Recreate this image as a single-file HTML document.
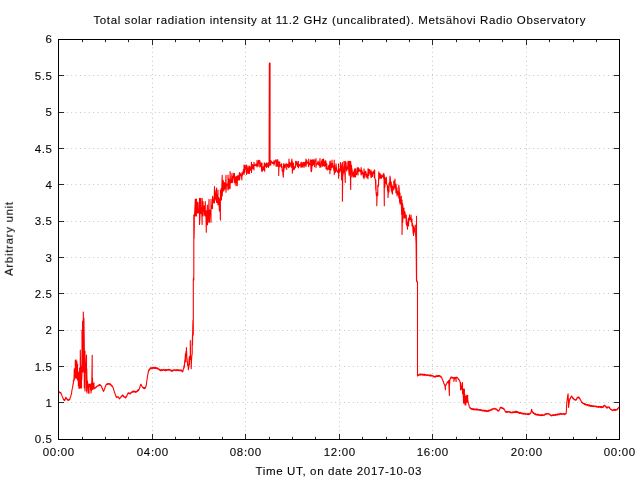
<!DOCTYPE html>
<html><head><meta charset="utf-8"><style>html,body{margin:0;padding:0;background:#fff;width:640px;height:480px;overflow:hidden}svg{display:block}</style></head>
<body><svg width="640" height="480" viewBox="0 0 640 480">
<rect width="640" height="480" fill="#fff"/>
<path d="M152.5 439.5V39.5M245.5 439.5V39.5M339.5 439.5V39.5M432.5 439.5V39.5M526.5 439.5V39.5M58.5 402.5H619.5M58.5 366.5H619.5M58.5 330.5H619.5M58.5 293.5H619.5M58.5 257.5H619.5M58.5 221.5H619.5M58.5 184.5H619.5M58.5 148.5H619.5M58.5 112.5H619.5M58.5 75.5H619.5" stroke="#c4c4c4" stroke-width="1" stroke-dasharray="1 3.4000000000000004" stroke-dashoffset="0.5" fill="none"/>
<path d="M58.5 439.5v-5.6M58.5 39.5v5.6M152.5 439.5v-5.6M152.5 39.5v5.6M245.5 439.5v-5.6M245.5 39.5v5.6M339.5 439.5v-5.6M339.5 39.5v5.6M432.5 439.5v-5.6M432.5 39.5v5.6M526.5 439.5v-5.6M526.5 39.5v5.6M619.5 439.5v-5.6M619.5 39.5v5.6M82.5 439.5v-2.7M82.5 39.5v2.7M105.5 439.5v-2.7M105.5 39.5v2.7M128.5 439.5v-2.7M128.5 39.5v2.7M175.5 439.5v-2.7M175.5 39.5v2.7M199.5 439.5v-2.7M199.5 39.5v2.7M222.5 439.5v-2.7M222.5 39.5v2.7M269.5 439.5v-2.7M269.5 39.5v2.7M292.5 439.5v-2.7M292.5 39.5v2.7M315.5 439.5v-2.7M315.5 39.5v2.7M362.5 439.5v-2.7M362.5 39.5v2.7M386.5 439.5v-2.7M386.5 39.5v2.7M409.5 439.5v-2.7M409.5 39.5v2.7M456.5 439.5v-2.7M456.5 39.5v2.7M479.5 439.5v-2.7M479.5 39.5v2.7M502.5 439.5v-2.7M502.5 39.5v2.7M549.5 439.5v-2.7M549.5 39.5v2.7M573.5 439.5v-2.7M573.5 39.5v2.7M596.5 439.5v-2.7M596.5 39.5v2.7M58.5 439.5h5.6M619.5 439.5h-5.6M58.5 402.5h5.6M619.5 402.5h-5.6M58.5 366.5h5.6M619.5 366.5h-5.6M58.5 330.5h5.6M619.5 330.5h-5.6M58.5 293.5h5.6M619.5 293.5h-5.6M58.5 257.5h5.6M619.5 257.5h-5.6M58.5 221.5h5.6M619.5 221.5h-5.6M58.5 184.5h5.6M619.5 184.5h-5.6M58.5 148.5h5.6M619.5 148.5h-5.6M58.5 112.5h5.6M619.5 112.5h-5.6M58.5 75.5h5.6M619.5 75.5h-5.6M58.5 39.5h5.6M619.5 39.5h-5.6" stroke="#2a2a2a" stroke-width="1" fill="none"/>
<path d="M58.50 391.60 58.86 392.16 59.21 391.76 59.57 392.73 59.93 392.23 60.29 393.11 60.64 392.52 61.00 393.10 61.31 394.11 61.62 394.25 61.94 395.67 62.25 396.25 62.56 396.65 62.88 398.05 63.19 398.38 63.50 399.40 63.81 400.09 64.12 399.43 64.44 400.55 64.75 400.60 65.07 399.27 65.38 399.01 65.70 397.50 66.00 397.25 66.30 398.71 66.60 398.25 66.90 399.00 67.28 399.90 67.66 399.30 68.04 400.37 68.42 399.71 68.80 400.30 69.10 400.17 69.40 399.28 69.70 399.47 70.00 398.75 70.33 397.10 70.65 396.85 70.97 395.03 71.30 394.40 71.60 393.09 71.90 390.44 72.20 389.00 72.50 387.69 72.80 385.69 73.10 383.87 73.40 384.00 73.40 380.00 73.70 380.25 74.00 380.77 74.30 368.75 74.30 380.00 74.63 369.50 74.97 372.67 75.30 378.00 75.30 360.30 75.60 363.94 75.90 378.00 75.90 359.80 76.20 366.10 76.50 366.44 76.80 361.00 76.80 378.00 77.20 379.00 77.60 364.00 77.60 380.00 77.87 373.25 78.13 373.54 78.40 386.00 78.40 372.00 78.70 376.29 79.00 388.40 79.00 376.00 79.30 377.43 79.60 388.00 79.60 368.00 79.95 383.46 80.30 388.00 80.30 350.00 80.55 362.72 80.80 388.00 80.80 366.00 81.15 372.64 81.50 388.00 81.50 366.00 81.75 380.00 82.00 372.00 82.00 330.00 82.30 359.45 82.60 372.00 82.60 321.00 82.95 355.96 83.30 372.00 83.30 312.00 83.60 340.89 83.90 360.00 83.90 318.00 84.30 345.00 84.30 388.00 84.65 361.61 85.00 351.00 85.00 391.00 85.38 368.20 85.75 372.22 86.12 363.22 86.50 355.00 86.50 391.00 86.75 368.86 87.00 380.00 87.00 393.00 87.40 380.80 87.80 384.26 88.20 385.90 88.60 392.72 89.00 393.60 89.00 384.00 89.40 385.63 89.80 386.61 90.20 384.00 90.60 389.98 91.00 384.00 91.00 393.00 91.30 390.06 91.60 383.00 91.60 390.00 91.90 376.74 92.20 355.20 92.20 388.00 92.45 377.78 92.70 382.80 92.70 389.40 93.03 385.49 93.35 385.23 93.67 383.48 94.00 383.00 94.00 389.00 94.25 388.70 94.50 388.40 94.90 388.40 95.30 387.37 95.70 387.91 96.10 386.88 96.50 387.16 96.90 386.16 97.30 386.10 97.65 386.13 98.00 385.45 98.35 386.00 98.70 384.99 99.05 385.34 99.40 384.44 99.75 384.60 100.11 385.49 100.47 384.97 100.84 385.90 101.20 385.80 101.58 386.29 101.97 388.26 102.35 388.03 102.73 390.12 103.12 390.14 103.50 391.40 103.90 390.78 104.30 389.04 104.70 389.00 105.10 386.77 105.50 386.66 105.90 385.12 106.30 384.40 106.64 384.59 106.99 383.87 107.33 384.47 107.67 383.48 108.01 384.14 108.36 383.52 108.70 383.60 109.08 384.19 109.47 383.64 109.85 384.65 110.23 383.77 110.62 385.11 111.00 384.80 111.38 384.85 111.76 386.24 112.14 385.74 112.52 386.94 112.90 387.20 113.27 387.72 113.64 389.99 114.01 389.97 114.38 392.24 114.75 392.80 115.10 393.48 115.45 395.28 115.80 395.71 116.15 397.00 116.54 397.48 116.93 396.78 117.33 397.23 117.72 396.71 118.11 397.27 118.50 397.00 118.80 397.28 119.10 398.49 119.40 398.90 119.75 398.23 120.10 398.21 120.45 397.23 120.80 397.00 121.18 396.98 121.56 396.03 121.94 396.45 122.32 395.01 122.70 395.10 123.05 395.84 123.40 395.74 123.75 396.88 124.10 397.00 124.48 396.74 124.86 397.45 125.24 396.72 125.62 398.05 126.00 397.50 126.38 396.31 126.77 396.35 127.15 394.92 127.53 394.61 127.92 393.23 128.30 392.80 128.66 393.35 129.03 392.70 129.39 393.78 129.75 393.75 130.11 393.28 130.47 393.86 130.83 392.53 131.19 392.97 131.56 392.00 131.92 392.39 132.28 391.49 132.64 392.30 133.00 391.40 133.37 390.87 133.73 392.02 134.10 391.25 134.47 391.98 134.83 391.41 135.20 392.28 135.57 391.35 135.93 392.39 136.30 391.90 136.70 391.21 137.10 391.51 137.50 390.31 137.90 391.17 138.30 389.60 138.70 390.40 139.10 389.50 139.44 387.87 139.78 387.91 140.12 386.02 140.46 385.69 140.80 384.20 141.20 384.59 141.60 385.91 142.00 386.24 142.40 387.20 142.79 387.76 143.18 387.35 143.57 388.41 143.97 387.50 144.36 388.77 144.75 388.60 145.09 387.38 145.43 388.04 145.76 386.17 146.10 386.20 146.43 384.24 146.75 381.25 147.07 379.52 147.40 376.90 147.77 374.58 148.13 373.12 148.50 370.80 148.88 369.81 149.26 370.38 149.64 368.69 150.02 369.17 150.40 368.25 150.80 367.69 151.20 368.68 151.60 367.82 152.00 368.49 152.40 367.32 152.80 368.42 153.20 367.80 153.54 367.29 153.89 368.27 154.23 367.61 154.57 368.47 154.91 367.60 155.26 368.53 155.60 368.00 155.98 367.42 156.36 368.50 156.74 367.80 157.12 368.87 157.50 368.30 157.88 368.08 158.27 369.17 158.65 368.95 159.03 369.76 159.42 369.19 159.80 370.10 160.19 370.65 160.58 369.82 160.97 370.64 161.36 369.42 161.75 370.55 162.15 369.69 162.54 370.48 162.93 369.77 163.32 370.22 163.71 369.37 164.10 370.00 164.45 370.50 164.80 369.59 165.15 370.66 165.50 369.66 165.85 370.65 166.20 369.50 166.55 370.38 166.90 370.10 167.28 369.69 167.67 370.23 168.05 369.50 168.43 370.16 168.82 369.29 169.20 369.50 169.54 370.07 169.89 369.62 170.23 370.67 170.57 369.89 170.91 370.83 171.26 370.15 171.60 370.80 171.95 371.32 172.30 370.24 172.65 371.15 173.00 370.03 173.35 370.80 173.70 369.84 174.05 370.39 174.40 370.10 174.77 369.70 175.14 370.38 175.51 369.90 175.88 370.66 176.25 369.83 176.62 370.51 176.99 369.58 177.36 370.55 177.73 369.76 178.10 370.10 178.47 370.56 178.83 369.72 179.20 370.75 179.57 369.99 179.93 370.72 180.30 369.99 180.67 370.65 181.03 369.82 181.40 370.40 181.75 371.15 182.10 370.60 182.45 371.92 182.80 371.70 183.15 369.79 183.50 369.06 183.85 366.93 184.20 365.00 184.20 368.00 184.50 364.97 184.80 360.17 185.10 359.94 185.40 353.75 185.40 362.00 185.73 354.90 186.07 351.28 186.40 356.00 186.40 347.65 186.70 354.01 187.00 362.00 187.00 358.40 187.35 361.71 187.70 365.58 188.05 364.82 188.40 369.70 188.40 365.00 188.73 368.13 189.07 359.40 189.40 356.60 189.40 365.00 189.70 356.23 190.00 356.89 190.30 355.00 190.30 340.60 190.60 359.58 190.90 356.72 191.20 360.00 191.20 368.75 191.53 360.25 191.87 355.39 192.20 353.75 192.20 345.00 192.50 335.00 192.50 345.00 192.77 326.45 193.03 319.99 193.30 335.00 193.30 280.00 193.55 277.91 193.80 280.00 193.80 215.00 194.05 238.43 194.30 226.00 194.30 215.00 194.67 212.86 195.03 204.94 195.40 199.00 195.40 216.00 195.73 209.86 196.07 205.72 196.40 216.00 196.40 199.00 196.77 206.20 197.13 202.21 197.50 202.50 197.50 213.00 197.88 211.81 198.25 212.85 198.62 209.92 199.00 202.50 199.00 213.00 199.25 208.77 199.50 198.30 199.50 224.40 199.87 218.89 200.24 209.03 200.61 198.30 200.99 213.25 201.36 213.65 201.73 207.31 202.10 224.40 202.10 198.30 202.40 203.18 202.70 212.38 203.00 201.50 203.00 216.00 203.38 207.22 203.77 211.18 204.15 205.84 204.53 215.08 204.92 214.24 205.30 201.50 205.30 216.00 205.63 213.78 205.97 216.23 206.30 232.20 206.30 210.80 206.67 219.77 207.03 212.96 207.40 205.00 207.40 225.00 207.80 221.54 208.20 210.59 208.60 211.70 209.00 199.40 209.00 222.30 209.40 222.30 209.80 209.72 210.20 214.03 210.60 210.28 211.00 222.30 211.00 199.40 211.38 208.59 211.75 208.18 212.12 205.24 212.50 208.75 212.50 196.25 212.90 197.81 213.30 202.30 213.70 201.04 214.10 203.31 214.50 186.50 214.50 202.50 214.85 190.01 215.20 194.61 215.55 197.47 215.90 200.11 216.25 192.33 216.60 188.00 216.60 202.50 216.95 195.23 217.30 194.55 217.65 203.31 218.00 190.00 218.00 205.00 218.34 201.35 218.69 197.64 219.03 201.84 219.37 211.07 219.71 198.72 220.06 205.04 220.40 220.00 220.40 190.00 220.73 198.48 221.07 198.91 221.40 188.00 221.40 200.00 221.80 188.39 222.20 175.30 222.20 196.00 222.58 189.82 222.96 180.27 223.34 181.12 223.72 191.08 224.10 188.69 224.48 182.57 224.86 188.88 225.24 188.83 225.62 184.12 226.00 175.30 226.00 192.20 226.40 185.88 226.80 184.07 227.20 184.29 227.60 183.94 228.00 190.00 228.00 175.00 228.35 185.87 228.70 178.99 229.05 188.83 229.40 179.41 229.75 186.06 230.10 188.40 230.10 171.60 230.48 181.48 230.86 182.69 231.24 181.66 231.62 178.76 232.00 173.40 232.00 182.80 232.34 182.66 232.69 178.54 233.03 176.37 233.37 177.52 233.71 173.40 234.06 179.14 234.40 182.80 234.40 173.40 234.80 182.89 235.20 182.73 235.60 177.23 236.00 185.60 236.00 176.25 236.40 182.28 236.80 182.35 237.20 176.25 237.20 185.60 237.58 177.81 237.97 175.37 238.35 178.43 238.73 180.03 239.12 176.79 239.50 172.50 239.50 180.00 239.84 177.99 240.19 173.19 240.53 174.75 240.87 174.52 241.21 175.82 241.56 176.87 241.90 180.00 241.90 172.50 242.25 175.77 242.60 174.75 242.95 172.86 243.30 169.87 243.65 171.39 244.00 174.40 244.00 165.00 244.36 170.71 244.73 172.79 245.09 165.00 245.46 168.60 245.82 167.69 246.19 169.81 246.55 165.00 246.55 174.40 246.91 171.92 247.28 168.27 247.64 170.05 248.00 166.00 248.00 173.40 248.35 168.06 248.70 170.28 249.05 173.40 249.40 166.00 249.40 173.40 249.75 167.80 250.10 167.12 250.45 167.95 250.80 170.49 251.15 167.20 251.50 162.20 251.50 172.50 251.86 167.09 252.21 167.10 252.57 164.50 252.93 168.68 253.29 164.75 253.64 166.25 254.00 170.00 254.00 162.20 254.38 165.56 254.75 165.47 255.12 165.08 255.50 165.78 255.88 164.04 256.25 164.58 256.62 165.62 257.00 166.90 257.00 160.30 257.39 163.84 257.77 163.88 258.16 166.21 258.54 160.36 258.93 163.00 259.31 161.88 259.70 160.30 259.70 166.90 260.08 161.47 260.47 166.41 260.85 163.93 261.23 162.96 261.62 170.82 262.00 163.10 262.00 171.60 262.39 169.72 262.77 170.55 263.16 166.80 263.54 166.65 263.93 169.86 264.31 163.10 264.70 171.20 264.70 163.10 265.06 164.23 265.42 163.99 265.78 166.33 266.14 164.73 266.50 162.80 266.50 167.50 266.88 163.50 267.26 164.90 267.64 166.45 268.02 162.96 268.40 167.50 268.40 162.80 268.75 165.50 269.10 166.00 269.10 162.80 269.35 63.00 269.35 165.00 269.70 78.05 270.05 63.00 270.05 165.00 270.30 165.10 270.30 160.50 270.55 164.43 270.80 165.10 270.80 160.50 271.20 161.50 271.60 162.45 272.00 161.86 272.40 163.52 272.80 162.94 273.20 162.38 273.60 163.30 274.00 165.10 274.00 160.50 274.40 163.78 274.80 161.02 275.20 161.10 275.60 160.92 276.00 159.50 276.00 166.10 276.36 161.83 276.72 160.72 277.08 166.10 277.44 162.87 277.80 166.10 277.80 159.50 278.10 164.73 278.40 162.74 278.70 161.90 278.70 175.50 279.03 162.65 279.37 164.99 279.70 166.60 279.70 161.90 280.06 166.55 280.42 165.65 280.78 165.07 281.14 165.81 281.50 163.75 281.50 167.50 281.88 166.33 282.26 171.29 282.64 169.88 283.02 175.03 283.40 177.30 283.40 163.75 283.70 171.87 284.00 169.40 284.00 163.75 284.39 166.27 284.77 165.14 285.16 167.88 285.54 165.40 285.93 163.93 286.31 164.77 286.70 163.75 286.70 169.40 287.08 164.25 287.47 166.46 287.85 165.47 288.23 164.27 288.62 167.77 289.00 159.00 289.00 167.50 289.36 162.14 289.73 166.36 290.09 164.15 290.45 163.32 290.81 162.80 291.17 167.03 291.54 161.89 291.90 159.00 291.90 167.50 292.10 161.00 292.30 161.40 292.30 173.10 292.67 165.90 293.03 170.19 293.40 163.06 293.77 166.56 294.13 169.44 294.50 168.50 294.87 166.69 295.23 167.68 295.60 167.00 295.60 161.40 296.00 164.57 296.40 164.21 296.80 161.40 297.20 165.36 297.60 166.59 298.00 164.21 298.40 161.40 298.40 168.00 298.77 164.57 299.14 166.02 299.51 165.95 299.89 164.41 300.26 164.03 300.63 164.43 301.00 167.50 301.00 162.30 301.38 162.30 301.75 164.32 302.12 166.84 302.50 167.04 302.88 162.30 303.25 164.72 303.62 164.57 304.00 167.50 304.00 162.30 304.40 163.30 304.80 165.77 305.20 162.26 305.60 163.40 306.00 159.00 306.00 166.60 306.39 162.83 306.77 160.31 307.16 162.93 307.54 162.40 307.93 163.99 308.31 161.69 308.70 166.60 308.70 159.00 309.09 165.01 309.47 163.75 309.86 163.97 310.24 164.57 310.63 159.71 311.01 170.97 311.40 160.00 311.40 171.70 311.77 169.37 312.13 162.68 312.50 165.60 312.50 160.00 312.89 159.84 313.28 162.40 313.67 164.76 314.06 159.38 314.44 166.66 314.83 161.09 315.22 161.76 315.61 161.17 316.00 158.60 316.00 167.50 316.40 163.99 316.80 164.23 317.20 163.42 317.60 164.16 318.00 161.16 318.40 164.91 318.80 162.25 319.20 162.73 319.60 166.23 320.00 158.60 320.00 167.50 320.36 163.90 320.72 165.18 321.08 166.93 321.44 161.40 321.80 163.92 322.16 159.65 322.52 166.17 322.88 159.84 323.24 159.26 323.60 159.00 323.60 165.60 324.00 161.77 324.40 166.40 324.80 164.70 325.20 160.66 325.60 165.67 326.00 161.25 326.00 168.75 326.39 164.04 326.78 163.85 327.17 170.25 327.56 167.97 327.95 168.61 328.34 169.05 328.73 165.21 329.12 169.41 329.51 166.57 329.90 161.25 329.90 173.75 330.25 161.04 330.60 165.95 330.95 170.00 331.30 163.90 331.65 167.41 332.00 160.00 332.00 167.50 332.38 163.09 332.75 166.00 333.12 166.66 333.50 168.16 333.88 170.50 334.25 160.00 334.25 174.40 334.60 164.71 334.95 168.74 335.30 172.51 335.65 170.35 336.00 171.25 336.00 163.75 336.37 167.93 336.74 169.66 337.11 170.54 337.49 172.09 337.86 171.78 338.23 172.93 338.60 163.75 338.60 178.10 338.98 171.55 339.36 168.82 339.74 172.10 340.12 170.55 340.50 170.00 340.50 162.50 340.88 164.91 341.26 167.21 341.64 179.87 342.02 169.38 342.40 162.50 342.40 201.25 342.72 177.07 343.04 173.64 343.36 173.58 343.68 166.52 344.00 168.75 344.00 161.25 344.31 172.19 344.62 172.03 344.94 174.65 345.25 182.50 345.25 161.25 345.64 162.98 346.04 162.38 346.43 169.71 346.82 171.07 347.21 167.00 347.61 168.85 348.00 161.25 348.00 168.75 348.39 161.25 348.77 171.28 349.16 175.21 349.54 161.33 349.93 174.07 350.31 174.11 350.70 189.40 350.70 161.25 351.02 170.98 351.35 165.00 351.68 168.28 352.00 176.90 352.00 168.75 352.39 173.37 352.78 175.26 353.17 172.83 353.56 176.90 353.94 170.80 354.33 176.85 354.72 168.75 355.11 172.84 355.50 168.75 355.50 176.90 355.86 173.76 356.21 174.02 356.57 174.52 356.93 169.62 357.29 167.86 357.64 170.89 358.00 175.00 358.00 167.50 358.39 168.05 358.77 171.48 359.16 168.77 359.55 170.64 359.94 171.05 360.33 171.58 360.71 169.65 361.10 175.00 361.10 167.50 361.46 174.52 361.83 170.18 362.19 171.75 362.55 173.80 362.91 172.77 363.27 177.12 363.64 172.99 364.00 178.75 364.00 168.75 364.40 172.36 364.80 177.06 365.20 175.31 365.60 171.17 366.00 172.27 366.40 174.42 366.80 177.76 367.20 176.29 367.60 173.92 368.00 178.75 368.00 168.75 368.38 168.91 368.75 175.49 369.12 170.28 369.50 169.46 369.88 171.92 370.25 174.03 370.62 173.86 371.00 177.50 371.00 170.00 371.36 177.50 371.72 173.21 372.08 171.90 372.44 176.37 372.81 174.11 373.17 172.68 373.53 171.66 373.89 173.60 374.25 170.00 374.25 177.50 374.48 176.85 374.70 170.00 374.70 177.00 375.07 178.87 375.43 180.29 375.80 190.00 375.80 180.00 376.13 192.87 376.47 195.88 376.80 195.00 376.80 205.80 377.13 192.73 377.47 195.70 377.80 195.00 377.80 185.00 378.13 186.90 378.47 185.00 378.80 171.70 378.80 180.00 379.20 175.66 379.60 173.65 380.00 178.30 380.00 173.30 380.38 176.90 380.76 178.30 381.14 174.75 381.52 178.30 381.90 175.93 382.28 176.85 382.66 175.88 383.04 174.55 383.42 177.48 383.80 178.30 383.80 173.30 384.05 181.23 384.30 205.80 384.30 175.00 384.65 187.79 385.00 186.00 385.00 178.00 385.32 183.15 385.65 178.36 385.98 182.48 386.30 184.00 386.30 177.00 386.64 184.01 386.98 184.53 387.32 185.67 387.66 190.87 388.00 186.00 388.00 197.50 388.33 192.08 388.67 188.65 389.00 192.00 389.00 183.00 389.33 185.87 389.67 182.78 390.00 176.00 390.00 184.00 390.32 177.50 390.65 186.64 390.98 188.05 391.30 182.00 391.30 191.00 391.70 184.85 392.10 193.00 392.50 194.00 392.50 186.00 392.82 188.79 393.15 186.97 393.48 188.10 393.80 190.00 393.80 181.00 394.20 188.31 394.60 182.01 395.00 179.00 395.00 186.00 395.33 187.83 395.67 187.24 396.00 193.00 396.00 184.00 396.33 187.85 396.67 192.50 397.00 188.00 397.00 196.00 397.36 191.09 397.72 193.39 398.08 194.37 398.44 191.65 398.80 198.00 398.80 185.00 399.20 188.34 399.60 202.00 400.00 193.00 400.00 204.00 400.32 204.00 400.65 204.00 400.98 200.28 401.30 196.00 401.30 204.00 401.65 214.40 402.00 200.00 402.00 234.50 402.27 222.95 402.53 203.33 402.80 222.00 402.80 205.00 403.20 212.06 403.60 213.65 404.00 208.00 404.00 218.00 404.33 211.19 404.67 214.69 405.00 218.00 405.00 212.00 405.31 217.29 405.62 216.54 405.94 214.90 406.25 224.00 406.25 215.00 406.56 225.17 406.88 225.04 407.19 224.56 407.50 229.30 407.50 222.00 407.83 225.89 408.17 219.54 408.50 218.00 408.50 226.00 408.83 221.00 409.17 219.03 409.50 220.00 409.50 214.70 409.88 220.00 410.25 218.76 410.62 217.35 411.00 220.00 411.00 215.00 411.33 221.98 411.67 222.22 412.00 219.00 412.00 226.00 412.38 223.32 412.75 225.76 413.12 233.12 413.50 226.00 413.50 235.50 413.83 229.17 414.17 229.33 414.50 232.00 414.50 228.00 414.77 229.44 415.03 227.69 415.30 225.00 415.30 233.40 415.70 235.56 416.10 243.33 416.50 281.00 416.50 216.25 416.60 281.00 416.88 281.87 417.17 281.05 417.45 282.00 417.50 282.00 417.50 376.00 417.60 376.00 418.00 374.92 418.40 374.80 418.76 375.37 419.11 374.49 419.47 374.95 419.82 374.19 420.18 375.18 420.54 373.87 420.89 374.82 421.25 374.40 421.63 374.14 422.00 374.88 422.38 374.12 422.76 375.20 423.13 374.36 423.51 375.24 423.89 374.20 424.26 375.34 424.64 374.27 425.02 375.34 425.39 374.57 425.77 375.30 426.15 374.65 426.52 375.60 426.90 375.10 427.27 374.92 427.65 375.48 428.02 374.70 428.39 375.59 428.77 375.11 429.14 375.59 429.51 374.98 429.89 375.82 430.26 374.88 430.63 376.16 431.01 374.97 431.38 375.98 431.75 375.47 432.13 375.99 432.50 375.80 432.88 375.58 433.27 376.72 433.65 376.00 434.03 376.90 434.42 376.42 434.80 377.00 435.16 377.25 435.52 376.05 435.89 376.86 436.25 376.10 436.62 375.49 437.00 376.54 437.38 375.76 437.75 376.56 438.12 375.62 438.50 376.37 438.88 375.53 439.25 376.39 439.62 375.54 440.00 375.80 440.38 376.57 440.76 376.41 441.14 377.44 441.52 377.04 441.90 378.10 442.27 379.50 442.64 379.64 443.01 381.30 443.38 381.21 443.75 382.80 444.07 384.01 444.38 384.07 444.70 385.15 445.05 386.65 445.40 389.80 445.40 385.00 445.75 385.30 446.10 385.15 446.45 383.69 446.80 383.77 447.15 382.30 447.50 381.90 447.80 382.48 448.10 382.44 448.40 380.90 448.40 383.00 448.73 380.60 449.07 388.49 449.40 395.50 449.40 380.00 449.60 384.45 449.80 381.00 449.80 379.10 450.13 379.35 450.47 377.87 450.80 377.20 451.18 377.91 451.57 376.89 451.95 378.04 452.33 377.14 452.72 378.16 453.10 377.65 453.50 378.12 453.90 377.50 453.90 381.40 454.27 378.89 454.63 378.50 455.00 377.20 455.37 378.09 455.73 378.47 456.10 381.40 456.10 377.20 456.50 377.53 456.90 377.20 457.20 377.27 457.50 378.30 457.80 378.30 458.18 378.50 458.56 379.51 458.94 379.37 459.32 380.61 459.70 380.60 460.00 381.89 460.30 383.78 460.60 390.00 460.60 382.50 460.98 385.26 461.36 389.40 461.74 387.56 462.12 386.87 462.50 382.50 462.50 393.75 462.83 388.66 463.17 392.39 463.50 403.10 463.50 389.00 463.80 398.69 464.10 397.55 464.40 389.00 464.40 403.10 464.75 394.34 465.10 396.60 465.10 405.00 465.45 401.87 465.80 396.60 465.80 405.00 466.10 400.53 466.40 397.16 466.70 402.20 466.70 395.20 467.03 400.32 467.37 398.11 467.70 395.20 467.70 402.20 467.90 400.10 468.10 402.20 468.45 403.74 468.80 404.24 469.15 406.41 469.50 407.30 469.85 407.38 470.20 408.43 470.55 407.87 470.90 408.90 471.29 409.29 471.68 408.55 472.07 409.41 472.47 408.72 472.86 409.74 473.25 408.55 473.64 409.61 474.03 409.02 474.43 409.88 474.82 409.11 475.21 409.65 475.60 409.50 475.98 408.93 476.36 409.97 476.74 409.05 477.12 410.04 477.50 409.10 477.88 410.14 478.26 409.51 478.64 410.02 479.02 409.41 479.40 409.90 479.77 410.46 480.14 409.43 480.51 410.35 480.88 409.70 481.25 410.61 481.62 409.90 481.99 410.65 482.36 410.14 482.73 410.96 483.10 410.60 483.48 410.03 483.86 410.94 484.24 410.33 484.62 411.36 485.00 410.22 485.38 411.18 485.76 410.70 486.14 411.62 486.52 410.41 486.90 411.10 487.27 411.41 487.64 410.68 488.01 411.42 488.38 410.33 488.75 411.21 489.12 410.02 489.49 410.97 489.86 410.03 490.23 410.75 490.60 410.10 491.00 409.60 491.40 410.08 491.80 408.92 492.20 409.87 492.60 408.82 493.00 408.90 493.36 409.12 493.72 408.38 494.08 409.12 494.44 408.25 494.80 408.55 495.18 409.03 495.56 408.70 495.94 409.76 496.32 408.87 496.70 409.70 497.08 410.19 497.46 409.81 497.84 411.08 498.22 410.61 498.60 411.10 498.98 410.92 499.36 409.33 499.74 409.29 500.12 407.61 500.50 407.30 500.88 407.95 501.27 407.30 501.65 408.19 502.03 407.51 502.42 408.52 502.80 408.30 503.15 408.03 503.50 409.15 503.85 408.58 504.20 409.20 504.55 410.11 504.90 410.12 505.25 411.72 505.60 412.00 506.00 411.66 506.40 412.46 506.80 411.32 507.20 412.23 507.60 411.51 508.00 412.15 508.40 411.70 508.75 411.56 509.10 412.15 509.45 411.61 509.80 412.34 510.15 411.80 510.50 412.73 510.85 412.19 511.20 412.50 511.58 412.92 511.95 412.14 512.33 412.84 512.71 411.71 513.08 412.62 513.46 411.91 513.84 412.49 514.22 411.64 514.59 412.57 514.97 411.63 515.35 412.41 515.72 411.11 516.10 411.70 516.48 412.38 516.87 411.43 517.25 412.43 517.63 411.66 518.02 412.87 518.40 412.60 518.78 412.04 519.16 413.35 519.54 412.54 519.92 413.43 520.30 412.33 520.68 413.24 521.06 412.74 521.44 413.70 521.82 412.96 522.20 413.30 522.57 413.98 522.94 413.13 523.31 414.09 523.68 413.34 524.05 414.10 524.42 413.14 524.79 414.11 525.16 413.59 525.53 414.40 525.90 414.05 526.28 413.72 526.66 414.29 527.04 413.82 527.42 414.38 527.80 413.50 528.18 414.64 528.56 413.55 528.94 414.44 529.32 413.63 529.70 414.20 530.05 413.95 530.40 412.76 530.75 413.18 531.10 412.20 531.40 410.34 531.70 409.20 532.10 411.29 532.50 412.20 532.85 412.10 533.20 413.36 533.55 412.65 533.90 413.60 534.28 413.99 534.67 413.25 535.05 414.53 535.43 413.83 535.82 414.91 536.20 414.50 536.58 414.23 536.96 415.25 537.34 414.19 537.72 415.06 538.10 414.21 538.48 415.20 538.86 414.57 539.24 415.43 539.62 414.73 540.00 415.00 540.37 415.59 540.74 414.73 541.11 415.55 541.48 414.44 541.85 415.56 542.22 414.62 542.59 415.48 542.96 414.96 543.33 415.39 543.70 415.20 544.08 414.71 544.46 415.22 544.84 414.12 545.22 414.71 545.60 414.05 546.00 413.38 546.40 414.18 546.80 413.56 547.20 414.29 547.60 413.52 548.00 413.86 548.40 413.60 548.80 413.56 549.20 414.48 549.60 414.19 550.00 415.16 550.40 414.72 550.80 415.50 551.18 415.92 551.56 415.12 551.95 415.84 552.33 414.91 552.71 415.53 553.09 414.61 553.47 415.49 553.85 414.87 554.24 415.33 554.62 414.56 555.00 415.00 555.39 415.51 555.78 414.29 556.17 415.14 556.57 414.37 556.96 414.80 557.35 414.04 557.74 414.90 558.13 414.01 558.53 414.78 558.92 413.81 559.31 414.75 559.70 414.05 560.10 413.52 560.50 414.36 560.90 413.44 561.30 414.27 561.70 413.61 562.10 414.43 562.50 413.75 562.90 414.27 563.30 413.50 563.70 414.25 564.10 413.60 564.50 414.67 564.90 413.79 565.30 414.05 565.60 414.15 565.90 413.21 566.20 413.50 566.45 409.05 566.70 403.75 567.00 400.76 567.30 399.32 567.60 396.25 567.85 394.80 568.10 393.90 568.35 401.04 568.60 407.50 568.90 404.67 569.20 402.72 569.50 400.00 569.88 398.62 570.26 398.99 570.64 397.14 571.02 397.08 571.40 396.10 571.78 396.02 572.17 397.63 572.55 397.19 572.93 398.63 573.32 398.20 573.70 399.10 574.10 399.58 574.50 399.22 574.90 399.95 575.30 399.62 575.70 400.36 576.10 400.20 576.45 398.91 576.80 399.21 577.15 397.37 577.50 397.20 577.86 397.81 578.22 397.06 578.58 397.92 578.94 397.17 579.30 397.65 579.68 398.95 580.06 398.72 580.44 400.22 580.82 400.16 581.20 401.40 581.60 402.43 582.00 401.89 582.40 403.17 582.80 402.76 583.20 403.67 583.60 403.75 584.00 403.58 584.40 404.55 584.80 403.53 585.20 404.83 585.60 404.08 586.00 405.16 586.40 404.70 586.77 404.47 587.14 405.22 587.51 404.42 587.88 405.62 588.25 404.74 588.62 405.86 588.99 404.83 589.36 405.99 589.73 405.11 590.10 405.80 590.49 406.36 590.88 405.31 591.27 406.34 591.67 405.48 592.06 406.50 592.45 405.76 592.84 406.44 593.23 405.72 593.62 406.48 594.02 405.69 594.41 406.61 594.80 406.40 595.19 406.24 595.58 406.74 595.97 405.93 596.37 406.95 596.76 406.39 597.15 406.91 597.54 406.54 597.93 407.31 598.33 406.37 598.72 407.41 599.11 406.42 599.50 407.00 599.87 407.26 600.23 406.60 600.60 407.46 600.97 406.57 601.33 407.73 601.70 406.60 602.07 407.46 602.43 406.68 602.80 407.30 603.16 407.48 603.52 405.82 603.88 406.25 604.24 405.29 604.60 405.15 605.00 405.87 605.40 405.89 605.80 407.16 606.20 406.49 606.60 408.01 607.00 408.00 607.38 407.18 607.76 407.98 608.14 406.92 608.52 407.24 608.90 406.75 609.26 407.04 609.62 408.35 609.98 408.05 610.34 409.21 610.70 409.40 611.08 409.23 611.46 410.04 611.84 409.75 612.22 410.60 612.60 410.50 612.95 409.75 613.30 410.41 613.65 409.48 614.00 409.60 614.40 410.32 614.80 409.34 615.20 410.43 615.60 409.46 616.00 410.23 616.40 410.10 616.76 409.38 617.12 409.81 617.48 408.53 617.84 409.09 618.20 408.40 618.45 407.18 618.70 407.00" stroke="#ff0000" stroke-width="1.1" fill="none" stroke-linejoin="round"/>
<rect x="58.5" y="39.5" width="561" height="400" fill="none" stroke="#000" stroke-width="1"/>
<g font-family="Liberation Sans, sans-serif" font-size="11.5" fill="#000" stroke="#000" stroke-width="0.1" style="opacity:0.999"><text x="52" y="442.5" text-anchor="end" textLength="17.2" lengthAdjust="spacing">0.5</text><text x="52" y="406.5" text-anchor="end" textLength="6.2" lengthAdjust="spacing">1</text><text x="52" y="370.5" text-anchor="end" textLength="17.2" lengthAdjust="spacing">1.5</text><text x="52" y="333.5" text-anchor="end" textLength="6.2" lengthAdjust="spacing">2</text><text x="52" y="297.5" text-anchor="end" textLength="17.2" lengthAdjust="spacing">2.5</text><text x="52" y="261.5" text-anchor="end" textLength="6.2" lengthAdjust="spacing">3</text><text x="52" y="224.5" text-anchor="end" textLength="17.2" lengthAdjust="spacing">3.5</text><text x="52" y="188.5" text-anchor="end" textLength="6.2" lengthAdjust="spacing">4</text><text x="52" y="152.5" text-anchor="end" textLength="17.2" lengthAdjust="spacing">4.5</text><text x="52" y="115.5" text-anchor="end" textLength="6.2" lengthAdjust="spacing">5</text><text x="52" y="79.5" text-anchor="end" textLength="17.2" lengthAdjust="spacing">5.5</text><text x="52" y="42.5" text-anchor="end" textLength="6.2" lengthAdjust="spacing">6</text><text x="58.5" y="455.5" text-anchor="middle" textLength="31.5" lengthAdjust="spacing">00:00</text><text x="152.5" y="455.5" text-anchor="middle" textLength="31.5" lengthAdjust="spacing">04:00</text><text x="245.5" y="455.5" text-anchor="middle" textLength="31.5" lengthAdjust="spacing">08:00</text><text x="339.5" y="455.5" text-anchor="middle" textLength="31.5" lengthAdjust="spacing">12:00</text><text x="432.5" y="455.5" text-anchor="middle" textLength="31.5" lengthAdjust="spacing">16:00</text><text x="526.5" y="455.5" text-anchor="middle" textLength="31.5" lengthAdjust="spacing">20:00</text><text x="619.5" y="455.5" text-anchor="middle" textLength="31.5" lengthAdjust="spacing">00:00</text><text x="339.5" y="23.5" text-anchor="middle" textLength="492" lengthAdjust="spacing">Total solar radiation intensity at 11.2 GHz (uncalibrated). Metsähovi Radio Observatory</text><text x="338.5" y="474.5" text-anchor="middle" textLength="166" lengthAdjust="spacing">Time UT, on date 2017-10-03</text><text transform="translate(12.8 238.9) rotate(-90)" x="0" y="0" text-anchor="middle" textLength="74" lengthAdjust="spacing">Arbitrary unit</text></g>
</svg></body></html>
